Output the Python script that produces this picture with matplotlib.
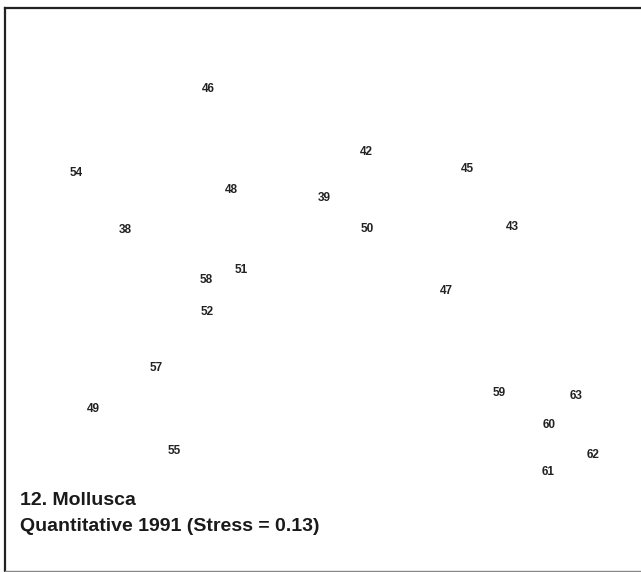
import matplotlib.pyplot as plt

# etiquetas de las estaciones y coordenadas MDS
labels = ['46', '42', '45', '54', '48', '39', '38', '50', '43', '51', '58',
          '47', '52', '57', '59', '63', '49', '60', '55', '62', '61']
mds_x = [-1.12, 0.46, 1.47, -2.44, -0.89, 0.04, -1.95, 0.47, 1.92, -0.79,
         -1.14, 1.26, -1.13, -1.64, 1.79, 2.56, -2.27, 2.29, -1.46, 2.73, 2.28]
mds_y = [2.02, 1.39, 1.22, 1.18, 1.01, 0.93, 0.61, 0.62, 0.64, 0.21, 0.11,
         0.00, -0.21, -0.77, -1.02, -1.05, -1.18, -1.34, -1.60, -1.64, -1.81]

title_1 = '12. Mollusca'
title_2 = 'Quantitative 1991 (Stress = 0.13)'

plt.rcParams['font.family'] = ['Liberation Sans', 'DejaVu Sans']

fig = plt.figure(figsize=(6.41, 5.72), dpi=100)
ax = fig.add_axes([4.5 / 641, 1.5 / 572, 1.0, 562.5 / 572])

# cada estacion se dibuja solo con su numero
for lab, x, y in zip(labels, mds_x, mds_y):
    ax.text(x, y, lab, ha='center', va='center', fontsize=8.5,
            fontweight='bold', color='#222222')

# limites para que 1 unidad = 100 px
ax.set_xlim(-3.155, 3.255)
ax.set_ylim(-2.79, 2.835)

ax.text(0.024, 0.1164, title_1, transform=ax.transAxes, fontsize=14,
        fontweight='bold', color='#1a1a1a', va='baseline')
ax.text(0.024, 0.0702, title_2, transform=ax.transAxes, fontsize=14,
        fontweight='bold', color='#1a1a1a', va='baseline')

ax.set_xticks([])
ax.set_yticks([])
ax.spines['right'].set_visible(False)
ax.spines['top'].set_linewidth(1.6)
ax.spines['left'].set_linewidth(1.6)
ax.spines['top'].set_color('#222222')
ax.spines['left'].set_color('#222222')
ax.spines['bottom'].set_color('#888888')
ax.spines['bottom'].set_linewidth(1.0)

fig.savefig('out.png', dpi=100)
